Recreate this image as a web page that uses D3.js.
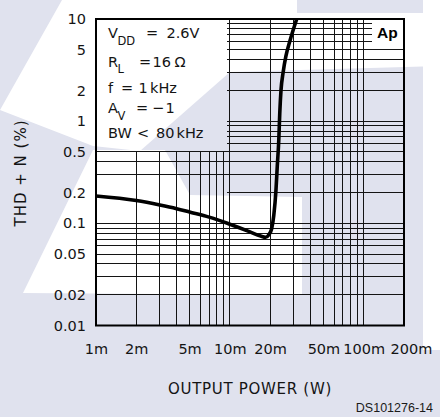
<!DOCTYPE html>
<html>
<head>
<meta charset="utf-8">
<script src="https://cdn.jsdelivr.net/npm/d3@7"></script>
<style>
  html, body { margin: 0; padding: 0; background: #ffffff; }
  svg { display: block; }
</style>
</head>
<body>
<svg id="chart" width="440" height="417"></svg>
<script>
// ---- data ----------------------------------------------------------
const xTicks = [0.001, 0.002, 0.005, 0.01, 0.02, 0.05, 0.1, 0.2];
const xTickLabels = ["1m", "2m", "5m", "10m", "20m", "50m", "100m", "200m"];
const yTicks = [10, 5, 2, 1, 0.5, 0.2, 0.1, 0.05, 0.02, 0.01];
const yTickLabels = ["10", "5", "2", "1", "0.5", "0.2", "0.1", "0.05", "0.02", "0.01"];

// output power (W) and THD+N (%)
const outputPower = [0.001, 0.002, 0.003, 0.004, 0.005, 0.007, 0.010, 0.014, 0.017, 0.0185,
                     0.0195, 0.0205, 0.0213, 0.0221, 0.0226, 0.0232, 0.0236, 0.0241, 0.0250,
                     0.0262, 0.0282, 0.0316];
const thdN = [0.185, 0.167, 0.151, 0.139, 0.129, 0.115, 0.098, 0.083, 0.075, 0.073,
              0.077, 0.088, 0.12, 0.21, 0.36, 0.65, 1.2, 2.0, 3.0,
              4.3, 6.2, 10];

// grid positions
const xGridLower = [0.002, 0.003, 0.004, 0.005, 0.006, 0.007, 0.008, 0.009];
const xGridFull = [0.01, 0.02, 0.03, 0.04, 0.05, 0.06, 0.07, 0.08, 0.09, 0.1];
const yGridRight = [5, 4, 3, 2, 1, 0.9, 0.8, 0.7, 0.6, 0.5, 0.4, 0.3, 0.2, 0.1,
                    0.09, 0.08, 0.07, 0.06, 0.05, 0.04, 0.03, 0.02];
const yGridRightShort = [9, 8, 7, 6];
const yGridLeft = [0.5, 0.4, 0.3, 0.1, 0.09, 0.08, 0.07, 0.06, 0.05, 0.04, 0.03, 0.02];

// ---- layout ----------------------------------------------------------
const W = 440, H = 417;
const plot = { left: 96, right: 404, top: 19, bottom: 325.5 };
const svg = d3.select("#chart");
const FONT = "'DejaVu Sans', sans-serif";
const INK = "#141414";

// paper backdrop with pale tinted areas
svg.append("rect").attr("width", W).attr("height", H).attr("fill", "#e0e2ee");
const paleAreas = [
  [[62, 0], [297, 0], [297, 13], [423, 13], [423, 0], [440, 0], [440, 66], [230, 72], [140, 151], [93, 146], [0, 110]],
  [[93, 150], [165, 150], [190, 195], [302, 197], [302, 295], [23, 293]],
  [[423, 0], [440, 0], [440, 350], [423, 350]]
];
svg.append("g").selectAll("path").data(paleAreas).join("path")
  .attr("d", d => "M" + d.map(p => p.join(",")).join("L") + "Z")
  .attr("fill", "#ffffff");

const x = d3.scaleLog().domain([0.001, 0.2]).range([plot.left, plot.right]);
const y = d3.scaleLog().domain([0.01, 10]).range([plot.bottom, plot.top]);

// ---- grid ------------------------------------------------------------
const grid = svg.append("g")
  .attr("stroke", INK).attr("stroke-width", 1).attr("shape-rendering", "crispEdges");

const x10m = x(0.01);
grid.selectAll(".vl").data(xGridLower).join("line")
  .attr("x1", d => x(d)).attr("x2", d => x(d))
  .attr("y1", y(0.5)).attr("y2", plot.bottom);
grid.selectAll(".vf").data(xGridFull).join("line")
  .attr("x1", d => x(d)).attr("x2", d => x(d))
  .attr("y1", plot.top).attr("y2", plot.bottom);
grid.selectAll(".hr").data(yGridRight).join("line")
  .attr("x1", x10m - 3).attr("x2", plot.right)
  .attr("y1", d => y(d)).attr("y2", d => y(d));
grid.selectAll(".hs").data(yGridRightShort).join("line")
  .attr("x1", x10m - 3).attr("x2", 372)
  .attr("y1", d => y(d)).attr("y2", d => y(d));
grid.selectAll(".hl").data(yGridLeft).join("line")
  .attr("x1", plot.left).attr("x2", x10m)
  .attr("y1", d => y(d)).attr("y2", d => y(d));

// frame
svg.append("rect")
  .attr("x", plot.left).attr("y", plot.top)
  .attr("width", plot.right - plot.left).attr("height", plot.bottom - plot.top)
  .attr("fill", "none").attr("stroke", "#000").attr("stroke-width", 2);

// ---- curve -----------------------------------------------------------
const pts = outputPower.map((p, i) => [p, thdN[i]]);
svg.append("path")
  .datum(pts)
  .attr("fill", "none").attr("stroke", "#000").attr("stroke-width", 3.6)
  .attr("stroke-linejoin", "round").attr("stroke-linecap", "butt")
  .attr("d", d3.line().x(d => x(d[0])).y(d => y(d[1])).curve(d3.curveMonotoneX));

// ---- axes ------------------------------------------------------------
const yAxis = d3.axisLeft(y).tickValues(yTicks)
  .tickFormat((d, i) => yTickLabels[i]).tickSize(0).tickPadding(10);
svg.append("g").attr("transform", `translate(${plot.left},0)`).call(yAxis)
  .call(g => g.select(".domain").remove())
  .attr("font-family", FONT).attr("font-size", 14.5)
  .selectAll("text").attr("fill", INK);

const xAxis = d3.axisBottom(x).tickValues(xTicks)
  .tickFormat((d, i) => xTickLabels[i]).tickSize(0).tickPadding(18);
const gx = svg.append("g").attr("transform", `translate(0,${plot.bottom})`).call(xAxis)
  .call(g => g.select(".domain").remove())
  .attr("font-family", FONT).attr("font-size", 14.5);
gx.selectAll("text").attr("fill", INK);
gx.selectAll(".tick").filter(d => d === 0.2).select("text").attr("dx", 7);

// axis titles
svg.append("text")
  .attr("x", 250).attr("y", 394)
  .attr("text-anchor", "middle")
  .attr("font-family", FONT).attr("font-size", 15).attr("letter-spacing", 0.7)
  .attr("fill", INK)
  .text("OUTPUT POWER (W)");

svg.append("text")
  .attr("transform", "translate(26,173) rotate(-90)")
  .attr("text-anchor", "middle")
  .attr("font-family", FONT).attr("font-size", 15).attr("letter-spacing", 1)
  .attr("fill", INK)
  .text("THD + N (%)");

// ---- conditions block --------------------------------------------------
const notes = svg.append("g").attr("font-family", FONT).attr("font-size", 14.5).attr("fill", INK);
function put(txt, px, py, size) {
  notes.append("text").attr("x", px).attr("y", py)
    .attr("font-size", size || null).text(txt);
}
put("V", 108, 38.3);   put("DD", 117.5, 45, 11.5); put("=", 146, 38.3);   put("2.6V", 166.5, 38.3);
put("R", 108, 66.7);   put("L", 117.5, 73, 11.5);  put("=", 139, 66.7);   put("16", 152.5, 66.7); put("\u03A9", 174.5, 66.7);
put("f", 108, 93.3);   put("=", 121, 93.3);        put("1", 138.5, 93.3); put("kHz", 150, 93.3);
put("A", 108, 113.3);  put("V", 117.5, 120, 11.5); put("=", 136, 113.3);  put("\u2212", 152, 113.3); put("1", 165.5, 113.3);
put("BW", 108, 138.3); put("<", 137, 138.3);       put("80", 156, 138.3); put("kHz", 176.5, 138.3);

// corner badge
svg.append("text")
  .attr("x", 377).attr("y", 37.5)
  .attr("font-family", "'Liberation Sans', Arial, sans-serif")
  .attr("font-weight", "bold").attr("font-size", 15.5)
  .attr("fill", "#000")
  .text("Ap");

// drawing code
svg.append("text")
  .attr("x", 433).attr("y", 412)
  .attr("text-anchor", "end")
  .attr("font-family", "'Liberation Sans', Arial, sans-serif")
  .attr("font-size", 12.5)
  .attr("fill", "#1a1a1a")
  .text("DS101276-14");
</script>
</body>
</html>
